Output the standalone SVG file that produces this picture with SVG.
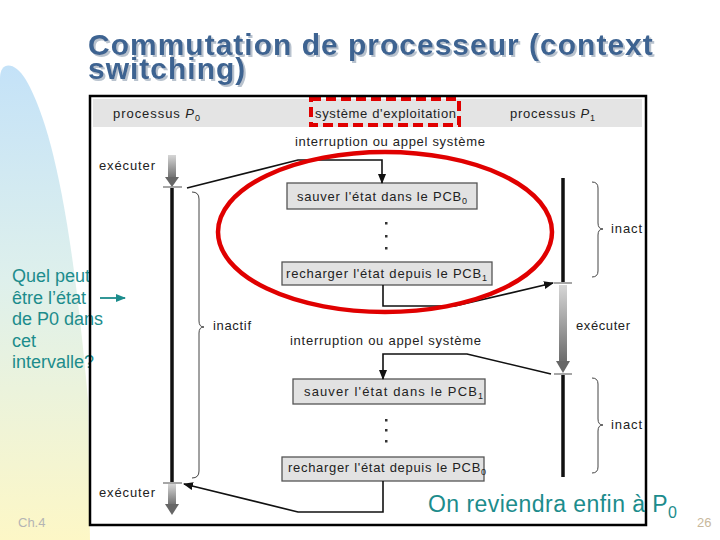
<svg xmlns="http://www.w3.org/2000/svg" width="720" height="540" viewBox="0 0 720 540">
<defs>
<linearGradient id="bg" x1="0" y1="0" x2="0" y2="1">
<stop offset="0" stop-color="#c4e2f8"/>
<stop offset="0.45" stop-color="#def0ec"/>
<stop offset="1" stop-color="#fdf7c6"/>
</linearGradient>
<linearGradient id="ga" x1="0" y1="0" x2="0" y2="1">
<stop offset="0" stop-color="#d6d6d6"/>
<stop offset="1" stop-color="#6a6a6a"/>
</linearGradient>
<filter id="sh" x="-5%" y="-20%" width="110%" height="150%">
<feDropShadow dx="2" dy="2" stdDeviation="0.4" flood-color="#b8c2ce" flood-opacity="1"/>
</filter>
<marker id="ah" markerWidth="10" markerHeight="8" refX="9" refY="4" orient="auto" markerUnits="userSpaceOnUse">
<path d="M0,0 L10,4 L0,8 Z" fill="#111"/>
</marker>
<marker id="ta" markerWidth="10" markerHeight="8" refX="9" refY="4" orient="auto" markerUnits="userSpaceOnUse">
<path d="M0,0 L10,4 L0,8 Z" fill="#1c8c8c"/>
</marker>
<style>
.t{font-family:"Liberation Sans",Arial,sans-serif;font-size:13px;fill:#222}
.title{font-family:"Liberation Sans",Arial,sans-serif;font-size:30px;font-weight:bold;letter-spacing:1px;fill:#3d6391}
.teal{font-family:"Liberation Sans",Arial,sans-serif;fill:#1c8c8c}
.box{fill:#e2e2e2;stroke:#555;stroke-width:1.3}
.con{fill:none;stroke:#111;stroke-width:1.6}
.life{stroke:#111;stroke-width:3.5}
.tick{stroke:#888;stroke-width:1.5}
.brace{fill:none;stroke:#444;stroke-width:1}
.dot{fill:#333}
</style>
</defs>
<rect width="720" height="540" fill="#fff"/>
<path d="M0,78 C0,62 14,60 26,80 C52,125 72,220 88,400 L90,540 L0,540 Z" fill="url(#bg)"/>

<g id="title" filter="url(#sh)">
<text class="title" x="88" y="55">Commutation de processeur (context<tspan x="88" y="79">switching)</tspan></text>
</g>

<rect x="90" y="96" width="556" height="429" fill="#fff"/>
<rect x="93" y="99" width="549" height="28" fill="#e4e4e4"/>

<g id="header">
<text class="t" x="113" y="118" textLength="87" lengthAdjust="spacing">processus <tspan font-style="italic">P</tspan><tspan font-size="9" dy="3">0</tspan></text>
<rect x="311" y="99" width="148" height="26" fill="none" stroke="#e00000" stroke-width="4" stroke-dasharray="10,5"/>
<text class="t" x="315" y="118" textLength="141" lengthAdjust="spacing">système d'exploitation</text>
<text class="t" x="510" y="118" textLength="85" lengthAdjust="spacing">processus <tspan font-style="italic">P</tspan><tspan font-size="9" dy="3">1</tspan></text>
</g>

<g id="p0">
<rect x="168" y="155" width="8" height="24" fill="url(#ga)"/>
<path d="M165,177 L179,177 L172,187 Z" fill="#666"/>
<line class="tick" x1="163" y1="187" x2="182" y2="187"/>
<line class="life" x1="172" y1="188" x2="172" y2="482"/>
<line class="tick" x1="163" y1="483" x2="182" y2="483"/>
<rect x="168" y="484" width="8" height="22" fill="url(#ga)"/>
<path d="M165,504 L179,504 L172,515 Z" fill="#666"/>
<text class="t" x="99" y="170" textLength="56" lengthAdjust="spacing">exécuter</text>
<text class="t" x="99" y="497" textLength="56" lengthAdjust="spacing">exécuter</text>
<path class="brace" d="M192,192 Q199,192 199,199 L199,321 Q199,327 204,327 Q199,327 199,333 L199,471 Q199,478 192,478"/>
<text class="t" x="213" y="330" textLength="38" lengthAdjust="spacing">inactif</text>
</g>

<g id="p1">
<line class="life" x1="563" y1="178" x2="563" y2="282"/>
<line class="tick" x1="554" y1="283" x2="572" y2="283"/>
<rect x="559" y="285" width="8" height="78" fill="url(#ga)"/>
<path d="M556,361 L570,361 L563,373 Z" fill="#666"/>
<line class="tick" x1="554" y1="374" x2="572" y2="374"/>
<line class="life" x1="563" y1="375" x2="563" y2="477"/>
<text class="t" x="576" y="330" textLength="54" lengthAdjust="spacing">exécuter</text>
<path class="brace" d="M592,182 Q598,182 598,188 L598,223 Q598,229 603,229 Q598,229 598,235 L598,271 Q598,277 592,277"/>
<text class="t" x="611" y="233" textLength="31" lengthAdjust="spacing">inact</text>
<path class="brace" d="M592,378 Q598,378 598,384 L598,419 Q598,425 603,425 Q598,425 598,431 L598,467 Q598,473 592,473"/>
<text class="t" x="611" y="429" textLength="31" lengthAdjust="spacing">inact</text>
</g>

<g id="os">
<text class="t" x="295" y="146" textLength="190" lengthAdjust="spacing">interruption ou appel système</text>
<g id="box1">
<rect class="box" x="287" y="183" width="190" height="26"/>
<text class="t" x="297" y="201" textLength="170" lengthAdjust="spacing">sauver l'état dans le PCB<tspan font-size="9" dy="3">0</tspan></text>
</g>
<rect class="dot" x="385" y="222" width="2.5" height="2.5"/>
<rect class="dot" x="385" y="235" width="2.5" height="2.5"/>
<rect class="dot" x="385" y="247" width="2.5" height="2.5"/>
<g id="box2">
<rect class="box" x="282" y="262" width="210" height="23"/>
<text class="t" x="286" y="278" textLength="201" lengthAdjust="spacing">recharger l'état depuis le PCB<tspan font-size="9" dy="3">1</tspan></text>
</g>
<text class="t" x="290" y="345" textLength="191" lengthAdjust="spacing">interruption ou appel système</text>
<g id="box3">
<rect class="box" x="293" y="379" width="192" height="25"/>
<text class="t" x="304" y="396" textLength="179" lengthAdjust="spacing">sauver l'état dans le PCB<tspan font-size="9" dy="3">1</tspan></text>
</g>
<rect class="dot" x="385" y="419" width="2.5" height="2.5"/>
<rect class="dot" x="385" y="429" width="2.5" height="2.5"/>
<rect class="dot" x="385" y="440" width="2.5" height="2.5"/>
<g id="box4">
<rect class="box" x="282" y="457" width="202" height="24"/>
<text class="t" x="288" y="472" textLength="198" lengthAdjust="spacing">recharger l'état depuis le PCB<tspan font-size="9" dy="3">0</tspan></text>
</g>
</g>

<g id="connectors">
<path class="con" d="M187,188 L298,160 L382,160 L382,183" marker-end="url(#ah)"/>
<path class="con" d="M383,285 L383,306 L455,306 L553,283" marker-end="url(#ah)"/>
<path class="con" d="M551,374 L467,354 L383,354 L383,379" marker-end="url(#ah)"/>
<path class="con" d="M383,481 L383,512 L298,512 L184,484" marker-end="url(#ah)"/>
</g>

<ellipse cx="385" cy="232" rx="167" ry="80" fill="none" stroke="#e00000" stroke-width="4.5"/>

<g id="question">
<text class="teal" font-size="18" x="12" y="282">Quel peut</text>
<text class="teal" font-size="18" x="12" y="304">être l’état</text>
<text class="teal" font-size="18" x="12" y="325">de P0 dans</text>
<text class="teal" font-size="18" x="12" y="347">cet</text>
<text class="teal" font-size="18" x="12" y="368">intervalle?</text>
<line x1="100" y1="298" x2="125" y2="298" stroke="#1c8c8c" stroke-width="1.8" marker-end="url(#ta)"/>
</g>

<rect x="90" y="96" width="556" height="429" fill="none" stroke="#000" stroke-width="2.5"/>

<text class="teal" font-size="23" x="428" y="512" textLength="249" lengthAdjust="spacing">On reviendra enfin à P<tspan font-size="16" dy="6">0</tspan></text>
<text font-family="'Liberation Sans',Arial,sans-serif" font-size="13" fill="#b4b4b4" x="18" y="527">Ch.4</text>
<text font-family="'Liberation Sans',Arial,sans-serif" font-size="13" fill="#c8b89c" x="697" y="527">26</text>
</svg>
